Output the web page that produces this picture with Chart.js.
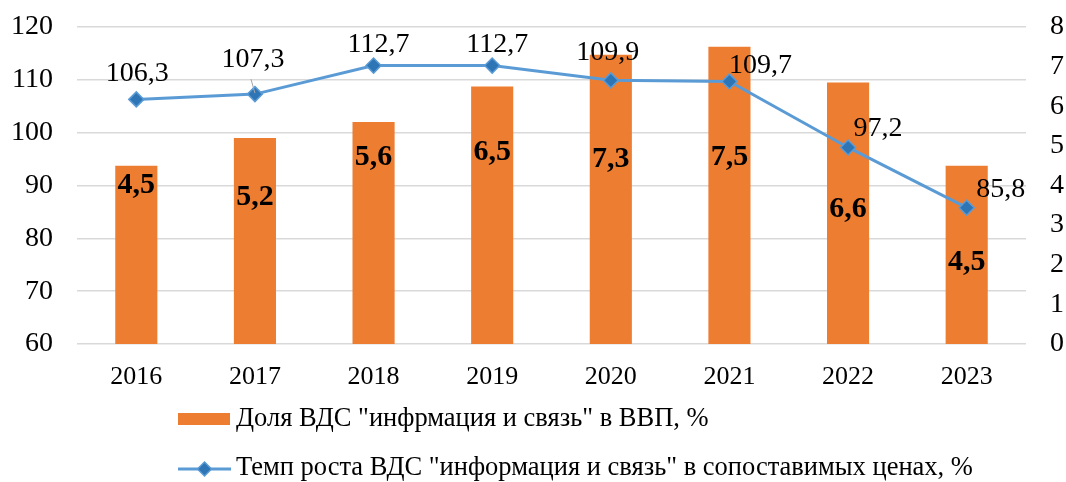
<!DOCTYPE html>
<html>
<head>
<meta charset="utf-8">
<script src="https://cdn.jsdelivr.net/npm/chart.js@4"></script>
<style>
  html, body { margin: 0; padding: 0; background: #ffffff; }
  #wrap { width: 1066px; height: 482px; position: relative; }
</style>
</head>
<body>
<div id="wrap"><canvas id="c"></canvas></div>
<script>
const categories = ['2016', '2017', '2018', '2019', '2020', '2021', '2022', '2023'];
const shareGdp = [4.5, 5.2, 5.6, 6.5, 7.3, 7.5, 6.6, 4.5];
const growthRate = [106.3, 107.3, 112.7, 112.7, 109.9, 109.7, 97.2, 85.8];
const leftTicks = [60, 70, 80, 90, 100, 110, 120];
const rightTicks = [0, 1, 2, 3, 4, 5, 6, 7, 8];

const seriesNames = [
  'Доля ВДС "инфрмация и связь" в ВВП, %',
  'Темп роста ВДС "информация и связь" в сопоставимых ценах, %'
];

const FONT = '"Liberation Serif", "Times New Roman", serif';
const ORANGE = '#ED7D31';
const BLUE = '#5B9BD5';
const BLUE_DARK = '#2E75B6';
const fmt = v => v.toFixed(1).replace('.', ',');

const labelPlugin = {
  id: 'customLabels',
  afterDatasetsDraw(chart, args, opts) {
    const ctx = chart.ctx;
    const yR = chart.scales.yRight;
    const barMeta = chart.getDatasetMeta(0);
    const lineMeta = chart.getDatasetMeta(1);
    ctx.save();
    // bar labels
    ctx.font = 'bold 30px ' + FONT;
    ctx.fillStyle = '#000';
    ctx.textAlign = 'center';
    ctx.textBaseline = 'middle';
    barMeta.data.forEach((el, i) => {
      const y = yR.getPixelForValue(opts.barLabelAnchor[i]);
      ctx.fillText(fmt(chart.data.datasets[0].data[i]), el.x, y);
    });
    // leader line for 2017
    const p1 = lineMeta.data[1];
    ctx.strokeStyle = '#a6a6a6';
    ctx.lineWidth = 1;
    ctx.beginPath();
    ctx.moveTo(p1.x - 4, p1.y - 15);
    ctx.lineTo(p1.x, p1.y - 1);
    ctx.stroke();
    // line labels
    ctx.font = '28px ' + FONT;
    lineMeta.data.forEach((el, i) => {
      const o = opts.lineLabelOffset[i];
      ctx.fillText(fmt(chart.data.datasets[1].data[i]), el.x + o[0], el.y + o[1]);
    });
    ctx.restore();
  },
  afterDraw(chart) {
    const ctx = chart.ctx;
    ctx.save();
    ctx.font = '26.5px ' + FONT;
    ctx.textAlign = 'left';
    ctx.textBaseline = 'middle';
    // row 1
    ctx.fillStyle = ORANGE;
    ctx.fillRect(178, 413, 52, 12);
    ctx.fillStyle = '#000';
    ctx.fillText(chart.data.datasets[0].label, 236, 419);
    // row 2
    ctx.strokeStyle = BLUE;
    ctx.lineWidth = 3;
    ctx.beginPath();
    ctx.moveTo(178, 469);
    ctx.lineTo(231, 469);
    ctx.stroke();
    const cx = 204.5, cy = 469, r = 7;
    ctx.beginPath();
    ctx.moveTo(cx, cy - r); ctx.lineTo(cx + r, cy); ctx.lineTo(cx, cy + r); ctx.lineTo(cx - r, cy); ctx.closePath();
    ctx.fillStyle = BLUE_DARK;
    ctx.fill();
    ctx.lineWidth = 1.5;
    ctx.strokeStyle = BLUE;
    ctx.stroke();
    ctx.fillStyle = '#000';
    ctx.fillText(chart.data.datasets[1].label, 236, 468);
    ctx.restore();
  }
};

new Chart(document.getElementById('c'), {
  data: {
    labels: categories,
    datasets: [
      {
        type: 'bar',
        label: seriesNames[0],
        data: shareGdp,
        yAxisID: 'yRight',
        backgroundColor: ORANGE,
        borderWidth: 0,
        barPercentage: 0.355,
        categoryPercentage: 1,
        order: 1
      },
      {
        type: 'line',
        label: seriesNames[1],
        data: growthRate,
        yAxisID: 'yLeft',
        borderColor: BLUE,
        borderWidth: 3,
        pointStyle: 'rectRot',
        pointRadius: 7.5,
        pointBackgroundColor: BLUE_DARK,
        pointBorderColor: BLUE,
        pointBorderWidth: 1.5,
        tension: 0,
        order: 0
      }
    ]
  },
  options: {
    responsive: true,
    maintainAspectRatio: false,
    animation: false,
    layout: { padding: { top: 27, bottom: 92, left: 0, right: 0 } },
    plugins: {
      legend: { display: false },
      tooltip: { enabled: false },
      customLabels: {
        barLabelAnchor: [4.0, 3.7, 4.72, 4.85, 4.65, 4.72, 3.4, 2.07],
        lineLabelOffset: [[1, -26], [-2, -34], [5, -21], [5, -21], [-3, -28], [31, -16], [30, -19], [34, -18]]
      }
    },
    scales: {
      x: {
        grid: { display: false },
        border: { display: false },
        ticks: { color: '#000', font: { family: FONT, size: 26 }, padding: 10 },
        afterFit: s => { s.paddingLeft = 0; s.paddingRight = 0; s.height = 46; }
      },
      yLeft: {
        position: 'left',
        min: 60, max: 120,
        afterBuildTicks: s => { s.ticks = leftTicks.map(v => ({ value: v })); },
        grid: { color: '#d9d9d9', lineWidth: 1.5, drawTicks: false },
        border: { display: false },
        ticks: { color: '#000', font: { family: FONT, size: 28 }, padding: 24 },
        afterFit: s => { s.width = 77; s.paddingTop = 0; s.paddingBottom = 0; }
      },
      yRight: {
        position: 'right',
        min: 0, max: 8,
        afterBuildTicks: s => { s.ticks = rightTicks.map(v => ({ value: v })); },
        grid: { display: false, drawTicks: false },
        border: { display: false },
        ticks: { color: '#000', font: { family: FONT, size: 28 }, padding: 24 },
        afterFit: s => { s.width = 40; s.paddingTop = 0; s.paddingBottom = 0; }
      }
    }
  },
  plugins: [labelPlugin]
});
</script>
</body>
</html>
